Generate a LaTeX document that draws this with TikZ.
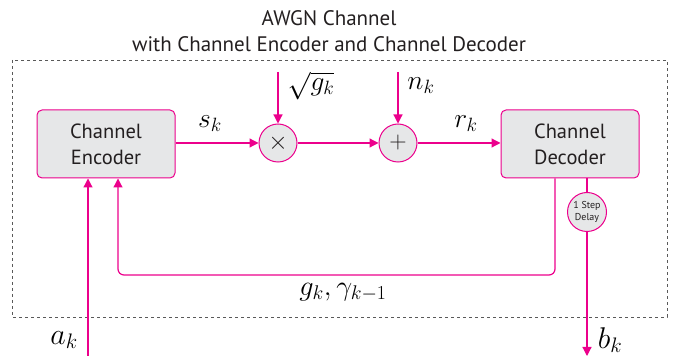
\RequirePackage{fix-cm}
\documentclass[tikz,border=0pt]{standalone}
\usepackage{fontspec}
\setmainfont{PT Sans}
\usetikzlibrary{arrows.meta}
\definecolor{mag}{RGB}{236,0,140}
\definecolor{boxgray}{RGB}{230,231,232}
\definecolor{txt}{RGB}{35,31,32}
\begin{document}
\begin{tikzpicture}[x=1pt,y=-1pt,
  blk/.style={draw=mag,fill=boxgray,rounded corners=5pt,minimum width=138pt,minimum height=68pt,line width=1pt,align=center,font=\fontsize{20.5}{26}\selectfont,text=txt,inner sep=0pt},
  op/.style={circle,draw=mag,fill=boxgray,minimum size=38pt,inner sep=0pt,line width=1pt,text=txt},
  sig/.style={draw=mag,line width=1.2pt,-{Triangle[length=9pt,width=9pt]}},
  wire/.style={draw=mag,line width=1.2pt},
  lbl/.style={font=\fontsize{27.5}{30}\selectfont,inner sep=0pt},
  bigl/.style={font=\fontsize{30}{34}\selectfont,inner sep=0pt}]
\useasboundingbox (0,0) rectangle (681,358);
% title
\node[align=center,inner sep=0pt,font=\fontsize{21}{26}\selectfont,text=txt] (title) at (329,31) {AWGN Channel\\with Channel Encoder and Channel Decoder};
% dashed channel box
\draw[dashed,draw=black!65,line width=0.8pt] (12,60) rectangle (667,317);
% blocks
\node[blk] (enc) at (106,144) {Channel\\Encoder};
\node[blk] (dec) at (570,144) {Channel\\Decoder};
\node[op] (mul) at (278,143) {\fontsize{25}{25}\selectfont$\times$};
\node[op] (add) at (398,143) {\fontsize{24}{24}\selectfont$+$};
\node[circle,draw=mag,fill=boxgray,minimum size=39pt,inner sep=0pt,line width=1pt,align=center,font=\fontsize{10}{12.5}\selectfont,text=txt] (dly) at (587,212) {1 Step\\Delay};
% inputs from top
\coordinate (gin) at (278,72);
\coordinate (nin) at (398,72);
\draw[sig] (gin) -- (mul);
\draw[sig] (nin) -- (add);
\node[lbl] (glab) at (311,86) {$\sqrt{g_k}$};
\node[lbl] (nlab) at (421,86) {$n_k$};
% forward path
\draw[sig] (enc.east |- mul) -- (mul);
\draw[sig] (mul) -- (add);
\draw[sig] (add) -- (dec.west |- add);
\node[lbl] (slab) at (210,124) {$s_k$};
\node[lbl] (rlab) at (466,124) {$r_k$};
% feedback
\coordinate (fb1) at (555,275);
\coordinate (fb2) at (118,275);
\draw[sig,rounded corners=6pt] (dec.south -| fb1) -- (fb1) -- (fb2) -- (enc.south -| fb2);
\node[lbl,font=\fontsize{28.3}{30}\selectfont] (fblab) at (343,292) {$g_k,\gamma_{k-1}$};
% input a_k
\coordinate (ain) at (88,356);
\draw[sig] (ain) -- (enc.south -| ain);
\node[bigl] (alab) at (64,340) {$a_k$};
% delay and output
\draw[wire] (dec.south -| dly) -- (dly);
\coordinate (bout) at (587,356);
\draw[sig] (dly) -- (bout);
\node[bigl] (blab) at (610,340) {$b_k$};
\end{tikzpicture}
\end{document}
